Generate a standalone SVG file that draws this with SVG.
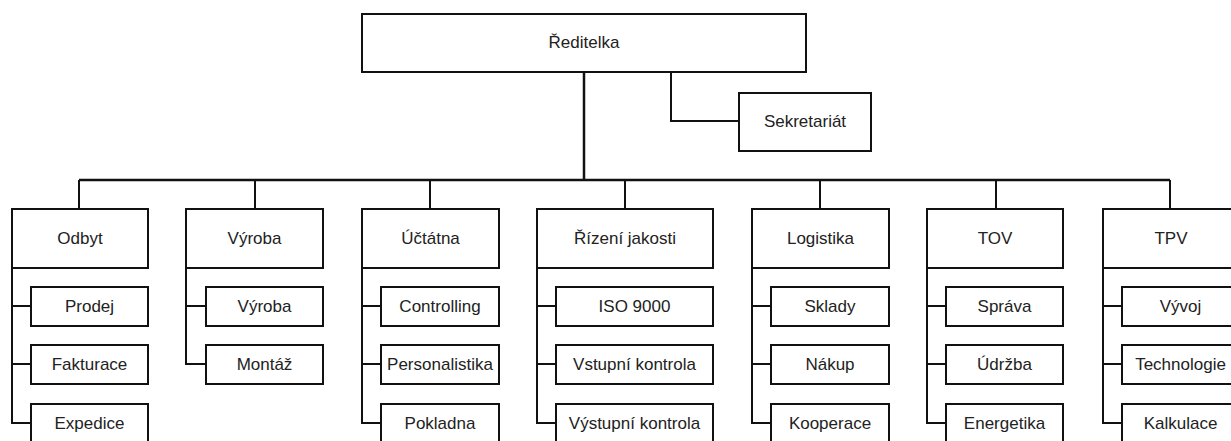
<svg xmlns="http://www.w3.org/2000/svg" width="1231" height="441" viewBox="0 0 1231 441">
  <style>
    .box { fill: #ffffff; stroke: #111111; stroke-width: 2; }
    .wire { fill: none; stroke: #111111; stroke-width: 2; }
    .main { stroke-width: 2.5; }
    .lbl { font-family: "Liberation Sans", Arial, sans-serif; font-size: 17px; fill: #222222; text-anchor: middle; }
  </style>
  <rect width="1231" height="441" fill="#ffffff"/>

  <!-- connectors -->
  <g id="connectors">
    <!-- director to departments -->
    <path class="wire main" d="M584 72 V180"/>
    <path class="wire main" d="M79 180 H1170"/>
    <!-- director to secretariat -->
    <path class="wire" d="M671 72 V121 H739"/>
    <!-- drops to departments -->
    <path class="wire" d="M79 180 V209 M255 180 V209 M430 180 V209 M625 180 V209 M820 180 V209 M996 180 V209 M1170 180 V209"/>
    <!-- Odbyt branch -->
    <path class="wire" d="M12 268 V423 H31 M12 306 H31 M12 364 H31"/>
    <!-- Výroba branch -->
    <path class="wire" d="M186 268 V364 H206 M186 306 H206"/>
    <!-- Účtátna branch -->
    <path class="wire" d="M362 268 V423 H381 M362 306 H381 M362 364 H381"/>
    <!-- Řízení jakosti branch -->
    <path class="wire" d="M537 268 V423 H556 M537 306 H556 M537 364 H556"/>
    <!-- Logistika branch -->
    <path class="wire" d="M752 268 V423 H771 M752 306 H771 M752 364 H771"/>
    <!-- TOV branch -->
    <path class="wire" d="M927 268 V423 H946 M927 306 H946 M927 364 H946"/>
    <!-- TPV branch -->
    <path class="wire" d="M1103 268 V423 H1122 M1103 306 H1122 M1103 364 H1122"/>
  </g>

  <g id="reditelka">
    <rect class="box" x="362" y="14" width="444" height="58"/>
    <text class="lbl" x="584" y="48">Ředitelka</text>
  </g>
  <g id="sekretariat">
    <rect class="box" x="739" y="93" width="132" height="58"/>
    <text class="lbl" x="805" y="127">Sekretariát</text>
  </g>

  <!-- departments -->
  <g id="odbyt">
    <rect class="box" x="12" y="209" width="136" height="59"/>
    <text class="lbl" x="80" y="244">Odbyt</text>
  </g>
  <g id="vyroba">
    <rect class="box" x="186" y="209" width="137" height="59"/>
    <text class="lbl" x="254.5" y="244">Výroba</text>
  </g>
  <g id="uctatna">
    <rect class="box" x="362" y="209" width="137" height="59"/>
    <text class="lbl" x="430.5" y="244">Účtátna</text>
  </g>
  <g id="rizeni-jakosti">
    <rect class="box" x="537" y="209" width="176" height="59"/>
    <text class="lbl" x="625" y="244">Řízení jakosti</text>
  </g>
  <g id="logistika">
    <rect class="box" x="752" y="209" width="137" height="59"/>
    <text class="lbl" x="820.5" y="244">Logistika</text>
  </g>
  <g id="tov">
    <rect class="box" x="927" y="209" width="136" height="59"/>
    <text class="lbl" x="995" y="244">TOV</text>
  </g>
  <g id="tpv">
    <rect class="box" x="1103" y="209" width="136" height="59"/>
    <text class="lbl" x="1171" y="244">TPV</text>
  </g>

  <!-- Odbyt units -->
  <g id="prodej"><rect class="box" x="31" y="287" width="117" height="39"/><text class="lbl" x="89.5" y="312">Prodej</text></g>
  <g id="fakturace"><rect class="box" x="31" y="345" width="117" height="39"/><text class="lbl" x="89.5" y="370">Fakturace</text></g>
  <g id="expedice"><rect class="box" x="31" y="404" width="117" height="45"/><text class="lbl" x="89.5" y="429">Expedice</text></g>

  <!-- Výroba units -->
  <g id="vyroba-unit"><rect class="box" x="206" y="287" width="117" height="39"/><text class="lbl" x="264.5" y="312">Výroba</text></g>
  <g id="montaz"><rect class="box" x="206" y="345" width="117" height="39"/><text class="lbl" x="264.5" y="370">Montáž</text></g>

  <!-- Účtátna units -->
  <g id="controlling"><rect class="box" x="381" y="287" width="118" height="39"/><text class="lbl" x="440" y="312">Controlling</text></g>
  <g id="personalistika"><rect class="box" x="381" y="345" width="118" height="39"/><text class="lbl" x="440" y="370">Personalistika</text></g>
  <g id="pokladna"><rect class="box" x="381" y="404" width="118" height="45"/><text class="lbl" x="440" y="429">Pokladna</text></g>

  <!-- Řízení jakosti units -->
  <g id="iso9000"><rect class="box" x="556" y="287" width="157" height="39"/><text class="lbl" x="634.5" y="312">ISO 9000</text></g>
  <g id="vstupni-kontrola"><rect class="box" x="556" y="345" width="157" height="39"/><text class="lbl" x="634.5" y="370">Vstupní kontrola</text></g>
  <g id="vystupni-kontrola"><rect class="box" x="556" y="404" width="157" height="45"/><text class="lbl" x="634.5" y="429">Výstupní kontrola</text></g>

  <!-- Logistika units -->
  <g id="sklady"><rect class="box" x="771" y="287" width="118" height="39"/><text class="lbl" x="830" y="312">Sklady</text></g>
  <g id="nakup"><rect class="box" x="771" y="345" width="118" height="39"/><text class="lbl" x="830" y="370">Nákup</text></g>
  <g id="kooperace"><rect class="box" x="771" y="404" width="118" height="45"/><text class="lbl" x="830" y="429">Kooperace</text></g>

  <!-- TOV units -->
  <g id="sprava"><rect class="box" x="946" y="287" width="117" height="39"/><text class="lbl" x="1004.5" y="312">Správa</text></g>
  <g id="udrzba"><rect class="box" x="946" y="345" width="117" height="39"/><text class="lbl" x="1004.5" y="370">Údržba</text></g>
  <g id="energetika"><rect class="box" x="946" y="404" width="117" height="45"/><text class="lbl" x="1004.5" y="429">Energetika</text></g>

  <!-- TPV units -->
  <g id="vyvoj"><rect class="box" x="1122" y="287" width="117" height="39"/><text class="lbl" x="1180.5" y="312">Vývoj</text></g>
  <g id="technologie"><rect class="box" x="1122" y="345" width="117" height="39"/><text class="lbl" x="1180.5" y="370">Technologie</text></g>
  <g id="kalkulace"><rect class="box" x="1122" y="404" width="117" height="45"/><text class="lbl" x="1180.5" y="429">Kalkulace</text></g>
</svg>
